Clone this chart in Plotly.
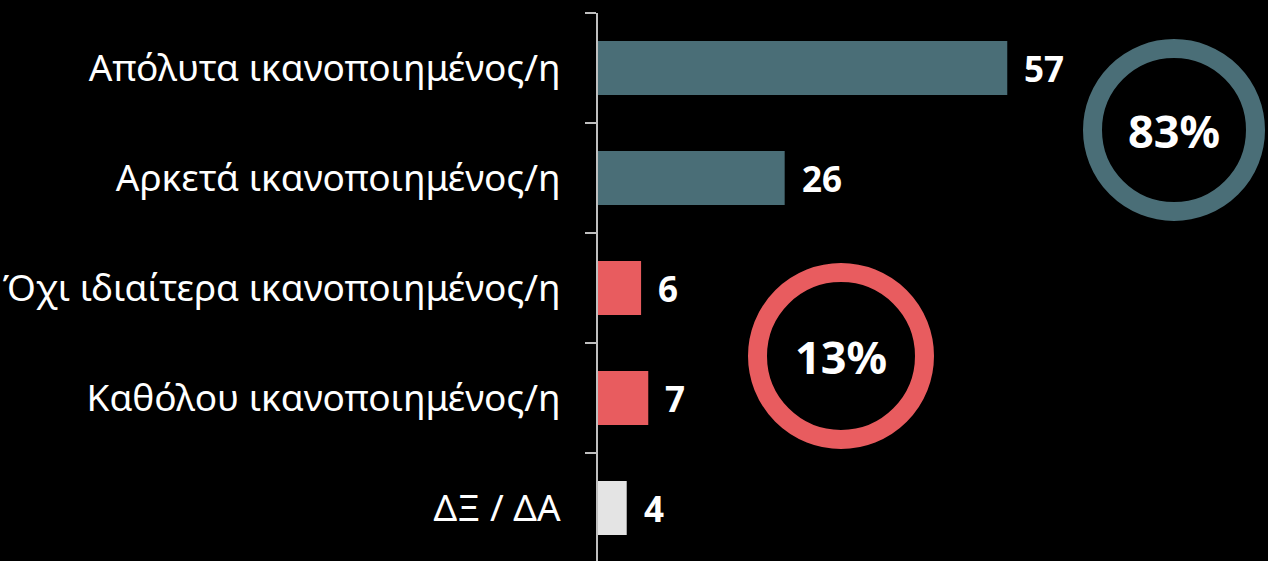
import plotly.graph_objects as go

categories = ["Απόλυτα ικανοποιημένος/η", "Αρκετά ικανοποιημένος/η",
              "Όχι ιδιαίτερα ικανοποιημένος/η", "Καθόλου ικανοποιημένος/η", "ΔΞ / ΔΑ"]
values = [57, 26, 6, 7, 4]
bar_colors = ["#4A6E77", "#4A6E77", "#E85C5F", "#E85C5F", "#E4E4E4"]
totals = ["83%", "13%"]
total_colors = ["#4A6E77", "#E85C5F"]

W, H = 1268, 561
L, T = 598, 13
PW, PH = W - L, H - T
XMAX = PW / 7.18
FONT = "Noto Sans"

fig = go.Figure(go.Bar(
    y=categories, x=values, orientation="h",
    marker=dict(color=bar_colors, line=dict(width=0)),
    width=0.49, hoverinfo="skip",
))

for c, v in zip(categories, values):
    fig.add_annotation(x=v, y=c, xref="x", yref="y", text=f"<b>{v}</b>",
                       showarrow=False, xanchor="left", xshift=15,
                       font=dict(family=FONT, size=35, color="white"))

def px2paper(px, py):
    return (px - L) / PW, (H - py) / PH

rings = [(1174, 130, 81.5), (841, 356, 83.5)]
for (cx, cy, r), lab, col in zip(rings, totals, total_colors):
    x0, y0 = px2paper(cx - r, cy + r)
    x1, y1 = px2paper(cx + r, cy - r)
    fig.add_shape(type="circle", xref="paper", yref="paper", x0=x0, y0=y0, x1=x1, y1=y1,
                  line=dict(color=col, width=19), fillcolor="rgba(0,0,0,0)", layer="above")
    ax, ay = px2paper(cx, cy)
    fig.add_annotation(x=ax, y=ay, xref="paper", yref="paper", text=f"<b>{lab}</b>",
                       showarrow=False, xanchor="center", yanchor="middle",
                       font=dict(family=FONT, size=45, color="white"))

fig.update_layout(
    width=W, height=H,
    margin=dict(l=L, r=0, t=T, b=0, autoexpand=False),
    paper_bgcolor="black", plot_bgcolor="black",
    showlegend=False,
    xaxis=dict(range=[0, XMAX], visible=False, showgrid=False, zeroline=False,
               automargin=False),
    yaxis=dict(type="category", categoryorder="array", categoryarray=categories,
               range=[-0.5 + PH / 110, -0.5], automargin=False,
               showline=True, linecolor="#BFBFBF", linewidth=2,
               ticks="outside", tickson="boundaries", ticklen=11, tickwidth=2,
               tickcolor="#BFBFBF", showgrid=False, zeroline=False,
               ticklabelstandoff=28,
               tickfont=dict(family=FONT, size=37, color="white")),
)

fig.write_html("out.html", config={"displayModeBar": False},
               post_script="document.body.style.margin='0';document.body.style.background='black';document.body.style.overflow='hidden';")
